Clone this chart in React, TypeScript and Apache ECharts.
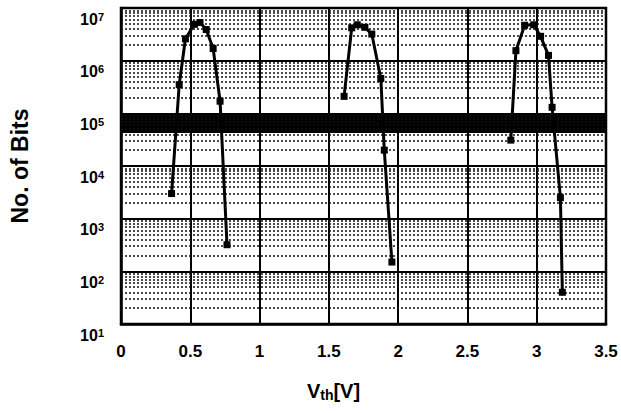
import React, { useEffect, useRef } from "react";
import * as echarts from "echarts";

// Curve 1 (state near 0.55 V)
const s1X = [0.365, 0.42, 0.465, 0.53, 0.57, 0.615, 0.665, 0.715, 0.765];
const s1Y = [3.0e3, 3.5e5, 2.6e6, 4.9e6, 5.3e6, 3.9e6, 1.7e6, 1.7e5, 3.2e2];
// Curve 2 (state near 1.7 V)
const s2X = [1.61, 1.665, 1.705, 1.76, 1.81, 1.875, 1.9, 1.955];
const s2Y = [2.1e5, 4.2e6, 4.8e6, 4.3e6, 3.2e6, 4.6e5, 2.0e4, 1.5e2];
// Curve 3 (state near 3.0 V)
const s3X = [2.813, 2.85, 2.913, 2.978, 3.028, 3.085, 3.111, 3.171, 3.185];
const s3Y = [3.1e4, 1.55e6, 4.7e6, 4.8e6, 2.9e6, 1.26e6, 1.3e5, 2.5e3, 40];

// Black band across the plot (y-range)
const bandY = [1.02e5, 4.25e4];

// Axis ranges
const xMin = 0;
const xMax = 3.5;
const xInterval = 0.5;
const yMin = 10;
const yMax = 1e7;

const decades = [1e1, 1e2, 1e3, 1e4, 1e5, 1e6];
const minorMult = [2, 3, 4, 5, 6, 7, 8, 9];

const FONT = "'Liberation Sans', Arial, sans-serif";

export default function App() {
  const ref = useRef<HTMLDivElement>(null);
  useEffect(() => {
    if (!ref.current) return;
    const chart = echarts.init(ref.current, null, { renderer: "svg" });
    const minorLines: any[] = [];
    decades.forEach((d) => minorMult.forEach((m) => minorLines.push({ yAxis: d * m })));
    const mk = (xs: number[], ys: number[]) => xs.map((x, i) => [x, ys[i]]);
    const lineSeries = (name: string, data: any[]) => ({
      name,
      type: "line",
      data,
      symbol: "rect",
      symbolSize: 7,
      z: 5,
      lineStyle: { color: "#000", width: 3 },
      itemStyle: { color: "#000" },
    });
    chart.setOption({
      animation: false,
      backgroundColor: "#fff",
      grid: {
        left: 117,
        right: 15,
        top: 8,
        bottom: 89,
        show: true,
        borderColor: "#000",
        borderWidth: 2.5,
        backgroundColor: "transparent",
      },
      xAxis: {
        type: "value",
        min: xMin,
        max: xMax,
        interval: xInterval,
        axisLine: { show: true, lineStyle: { color: "#000", width: 2.5 } },
        axisTick: { show: false },
        splitLine: { show: true, lineStyle: { color: "#000", width: 2 } },
        axisLabel: {
          color: "#000",
          fontFamily: FONT,
          fontWeight: "bold",
          fontSize: 17,
          margin: 19,
          formatter: (v: number) => String(v),
        },
        name: "{v|V}{sub|th}{v|[V]}",
        nameLocation: "middle",
        nameGap: 56,
        nameTextStyle: {
          padding: [0, 60, 0, 0],
          rich: {
            v: { fontFamily: FONT, fontWeight: "bold", fontSize: 20, color: "#000" },
            sub: {
              fontFamily: FONT,
              fontWeight: "bold",
              fontSize: 14,
              color: "#000",
              verticalAlign: "bottom",
              padding: [8, 0, 0, 0],
            },
          },
        },
      },
      yAxis: {
        type: "log",
        logBase: 10,
        min: yMin,
        max: yMax,
        axisLine: { show: true, lineStyle: { color: "#000", width: 2.5 } },
        axisTick: { show: false },
        splitLine: { show: true, lineStyle: { color: "#000", width: 2 } },
        axisLabel: {
          margin: 17,
          padding: [22, 0, 0, 0],
          formatter: (v: number) => `{b|10}{s|${Math.round(Math.log10(v))}}`,
          rich: {
            b: { fontFamily: FONT, fontWeight: "bold", fontSize: 16, color: "#000" },
            s: {
              fontFamily: FONT,
              fontWeight: "bold",
              fontSize: 11,
              color: "#000",
              verticalAlign: "top",
            },
          },
        },
        name: "No. of Bits",
        nameLocation: "middle",
        nameGap: 90,
        nameTextStyle: {
          fontFamily: FONT,
          fontWeight: "bold",
          fontSize: 23,
          color: "#000",
        },
      },
      series: [
        {
          name: "grid",
          type: "line",
          data: [],
          z: 1,
          silent: true,
          markLine: {
            silent: true,
            symbol: ["none", "none"],
            label: { show: false },
            lineStyle: { color: "#111", width: 1.5, type: [2, 2] },
            data: minorLines,
          },
          markArea: {
            silent: true,
            itemStyle: { color: "#000", opacity: 1 },
            data: [[{ yAxis: bandY[0] }, { yAxis: bandY[1] }]],
          },
        },
        lineSeries("state1", mk(s1X, s1Y)),
        lineSeries("state2", mk(s2X, s2Y)),
        lineSeries("state3", mk(s3X, s3Y)),
      ],
    });
    return () => chart.dispose();
  }, []);
  return (
    <div
      ref={ref}
      style={{ position: "absolute", left: 0, top: 0, width: 621, height: 413 }}
    />
  );
}
